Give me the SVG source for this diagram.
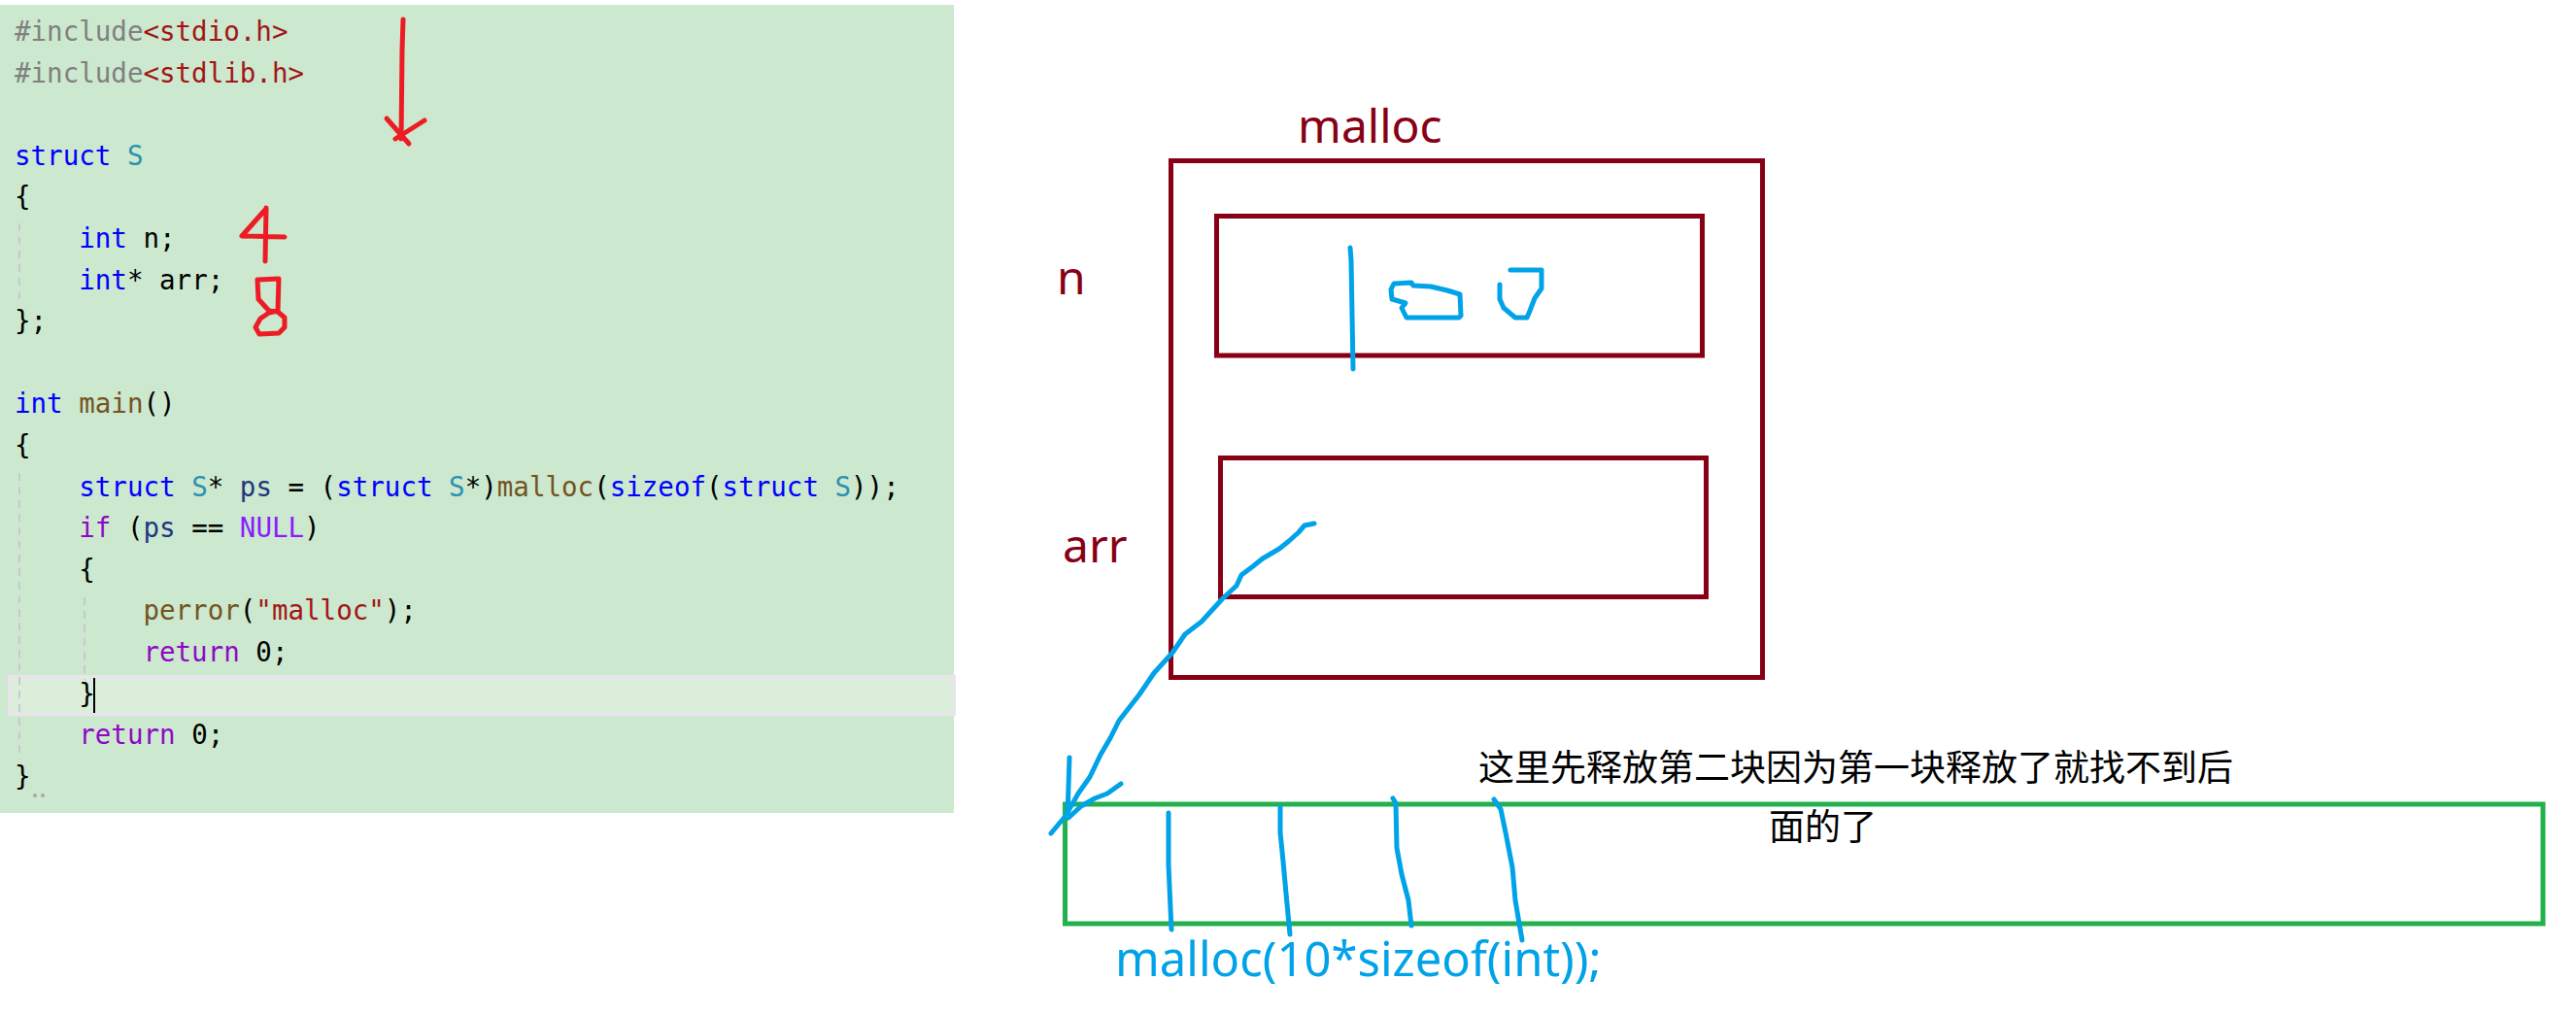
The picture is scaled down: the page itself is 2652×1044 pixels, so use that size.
<svg xmlns="http://www.w3.org/2000/svg" width="2652" height="1044" viewBox="0 0 2652 1044">
<style>
.code{font-family:"DejaVu Sans Mono","Liberation Mono",monospace;font-size:27.5px;fill:#000;white-space:pre}
.pp{fill:#808080}.str{fill:#a31515}.kw{fill:#0000ff}.ty{fill:#2b91af}.fn{fill:#74531f}.ctl{fill:#8f08c4}.mac{fill:#8a1bff}.var{fill:#1f377f}
.guide{stroke:#c9c9d2;stroke-width:2;stroke-dasharray:8 6;fill:none}
.mar{fill:none;stroke:#880015;stroke-width:5}
.lbl{font-family:"Noto Sans","Open Sans","Liberation Sans",sans-serif;font-size:48px;fill:#880015}
.red{fill:none;stroke:#ed1c24;stroke-width:5;stroke-linecap:round;stroke-linejoin:round}
.blue{fill:none;stroke:#00a2e8;stroke-width:5;stroke-linecap:round;stroke-linejoin:round}
.cn{font-family:"Noto Sans CJK SC","Noto Sans",sans-serif;font-size:37px;fill:#000}
</style>
<rect width="2652" height="1044" fill="#ffffff"/>

<g id="code-panel">
<rect x="0" y="5" width="982" height="832" fill="#cce8cf"/>
<rect x="10" y="697" width="972" height="38" fill="#daeeda" stroke="#e6e6ea" stroke-width="4"/>
<line class="guide" x1="20" y1="230" x2="20" y2="312"/>
<line class="guide" x1="20" y1="487" x2="20" y2="782"/>
<line class="guide" x1="87" y1="615" x2="87" y2="700"/>
<text class="code" x="15" y="42"><tspan class="pp">#include</tspan><tspan class="str">&lt;stdio.h&gt;</tspan></text>
<text class="code" x="15" y="84.6"><tspan class="pp">#include</tspan><tspan class="str">&lt;stdlib.h&gt;</tspan></text>
<text class="code" x="15" y="169.8"><tspan class="kw">struct</tspan> <tspan class="ty">S</tspan></text>
<text class="code" x="15" y="212.4">{</text>
<text class="code" x="15" y="255">    <tspan class="kw">int</tspan> n;</text>
<text class="code" x="15" y="297.6">    <tspan class="kw">int</tspan>* arr;</text>
<text class="code" x="15" y="340.2">};</text>
<text class="code" x="15" y="425.4"><tspan class="kw">int</tspan> <tspan class="fn">main</tspan>()</text>
<text class="code" x="15" y="468">{</text>
<text class="code" x="15" y="510.6">    <tspan class="kw">struct</tspan> <tspan class="ty">S</tspan>* <tspan class="var">ps</tspan> = (<tspan class="kw">struct</tspan> <tspan class="ty">S</tspan>*)<tspan class="fn">malloc</tspan>(<tspan class="kw">sizeof</tspan>(<tspan class="kw">struct</tspan> <tspan class="ty">S</tspan>));</text>
<text class="code" x="15" y="553.2">    <tspan class="ctl">if</tspan> (<tspan class="var">ps</tspan> == <tspan class="mac">NULL</tspan>)</text>
<text class="code" x="15" y="595.8">    {</text>
<text class="code" x="15" y="638.4">        <tspan class="fn">perror</tspan>(<tspan class="str">"malloc"</tspan>);</text>
<text class="code" x="15" y="681">        <tspan class="ctl">return</tspan> 0;</text>
<text class="code" x="15" y="723.6">    }</text>
<line x1="97" y1="698" x2="97" y2="734" stroke="#000" stroke-width="2"/>
<text class="code" x="15" y="766.2">    <tspan class="ctl">return</tspan> 0;</text>
<text class="code" x="15" y="808.8">}</text>
<circle cx="36" cy="819" r="2" fill="#a8a8a8"/>
<circle cx="44" cy="819" r="2" fill="#a8a8a8"/>
</g>

<g id="annotations-red">
<path class="red" d="M415,20 L414,52 L413,143"/>
<path class="red" d="M398,122 L421,148 M437,124 L407,143"/>
<path class="red" d="M274,214 L273,269 M273,216 L249,243 L293,244"/>
<path class="red" d="M265,288 L287,287 L286,320 M265,288 L266,308 L277,320 L286,321 L293,327 L293,337 L287,343 L267,344 L263,337 L268,328 L277,322 L286,320"/>
</g>

<g id="struct-block">
<text class="lbl" x="1336" y="147">malloc</text>
<rect class="mar" x="1205.5" y="165.5" width="609" height="532"/>
</g>

<g id="field-n">
<text class="lbl" x="1088" y="303">n</text>
<rect class="mar" x="1252.5" y="222.5" width="500" height="143.5"/>
<path class="blue" d="M1390,255 L1391,268 L1393,380"/>
<path class="blue" d="M1435,292 L1453,291 L1455,294 L1473,295 L1490,299 L1503,303 L1504,325 L1502,327 L1448,327 L1443,317 L1447,312 L1433,308 L1432,298 Z"/>
<path class="blue" d="M1555,278 L1587,278 L1587,297 L1580,307 L1575,320 L1572,327 L1560,327 L1548,317 L1544,308 L1544,293"/>
</g>

<g id="field-arr">
<text class="lbl" x="1094" y="579">arr</text>
<rect class="mar" x="1256.5" y="471.5" width="500" height="143"/>
</g>

<g id="array-block">
<rect x="1096.5" y="828" width="1521.5" height="123" fill="none" stroke="#22b14c" stroke-width="5"/>
<path class="blue" d="M1203,837 L1203,890 L1204,913 L1206,957"/>
<path class="blue" d="M1318,831 L1318,857 L1321,887 L1324,920 L1328,962"/>
<path class="blue" d="M1434,822 L1437,827 L1438,873 L1443,900 L1450,927 L1453,953"/>
<path class="blue" d="M1538,823 L1545,833 L1550,857 L1557,893 L1560,927 L1567,968"/>
<text x="1148" y="1005" font-family="Noto Sans, Open Sans, Liberation Sans, sans-serif" font-size="49" fill="#00a2e8">malloc(10*sizeof(int));</text>
</g>

<g id="note">
<text class="cn" x="1522" y="804">这里先释放第二块因为第一块释放了就找不到后</text>
<text class="cn" x="1821" y="865">面的了</text>
</g>

<g id="connectors">
<path class="blue" d="M1353,539 L1343,541 L1337,548 L1327,557 L1317,565 L1300,575 L1290,583 L1278,592 L1273,603 L1258,617 L1237,640 L1220,653 L1207,672 L1188,693 L1173,715 L1152,742 L1143,760 L1133,777 L1122,800 L1110,817 L1097,840 L1082,858"/>
<path class="blue" d="M1101,780 L1099,840 M1154,807 L1140,817 L1127,822 L1113,830 L1100,842"/>
</g>
</svg>
